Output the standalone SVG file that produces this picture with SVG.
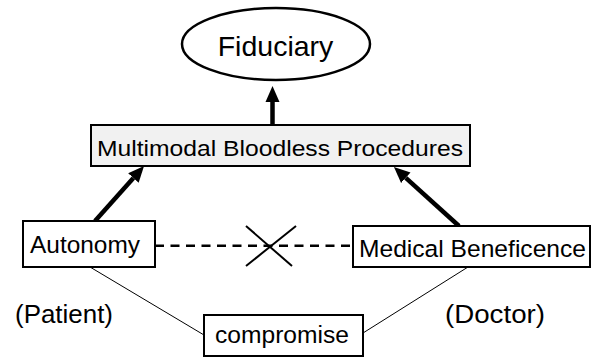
<svg xmlns="http://www.w3.org/2000/svg" width="597" height="358" viewBox="0 0 597 358">
<style>
.t{font-family:"Liberation Sans",Arial,sans-serif;fill:#000}
.box{fill:#fff;stroke:#000;stroke-width:2}
.thick{stroke:#000;stroke-width:4.5;fill:none}
.thin{stroke:#000;stroke-width:1;fill:none}
</style>
<defs>
<marker id="ah" markerUnits="userSpaceOnUse" markerWidth="16" markerHeight="16" refX="0" refY="8" orient="auto" viewBox="0 0 16 16">
<path d="M0,1 L16,8 L0,15 z" fill="#000"/>
</marker>
</defs>
<rect width="597" height="358" fill="#fff"/>
<g id="connectors">
<line class="thick" x1="272.5" y1="125" x2="272.5" y2="102" marker-end="url(#ah)"/>
<line class="thick" x1="95" y1="221" x2="133.4" y2="178" marker-end="url(#ah)"/>
<line class="thick" x1="459" y1="226" x2="405.8" y2="177.8" marker-end="url(#ah)"/>
<line x1="155" y1="245.7" x2="353" y2="245.7" stroke="#000" stroke-width="2.5" stroke-dasharray="9,6.5"/>
<line x1="246" y1="226" x2="292" y2="266" stroke="#000" stroke-width="2"/>
<line x1="296" y1="226" x2="246" y2="266" stroke="#000" stroke-width="2"/>
<line class="thin" x1="90" y1="267" x2="204" y2="335"/>
<line class="thin" x1="468" y1="267" x2="363" y2="333"/>
</g>
<g id="fiduciary">
<ellipse cx="276" cy="44" rx="94" ry="36" fill="#fff" stroke="#000" stroke-width="2.5"/>
<text class="t" x="275.5" y="56" font-size="28.5" text-anchor="middle">Fiduciary</text>
</g>
<g id="mbp">
<rect x="91" y="125" width="379" height="41" fill="#f1f1f1" stroke="#000" stroke-width="2"/>
<text class="t" x="97" y="155.5" font-size="22.5" textLength="366" lengthAdjust="spacingAndGlyphs">Multimodal Bloodless Procedures</text>
</g>
<g id="autonomy">
<rect class="box" x="23" y="221" width="132" height="46"/>
<text class="t" x="30" y="253" font-size="24.4" textLength="110" lengthAdjust="spacingAndGlyphs">Autonomy</text>
</g>
<g id="medical">
<rect class="box" x="353" y="226" width="237" height="41"/>
<text class="t" x="359" y="256.5" font-size="24.5" textLength="227" lengthAdjust="spacingAndGlyphs">Medical Beneficence</text>
</g>
<g id="compromise">
<rect class="box" x="204" y="315" width="159" height="41"/>
<text class="t" x="215" y="343" font-size="24.6" textLength="134" lengthAdjust="spacingAndGlyphs">compromise</text>
</g>
<g id="patient">
<text class="t" x="15" y="323.3" font-size="25" textLength="98" lengthAdjust="spacingAndGlyphs">(Patient)</text>
</g>
<g id="doctor">
<text class="t" x="445" y="323.3" font-size="25" textLength="100" lengthAdjust="spacingAndGlyphs">(Doctor)</text>
</g>
</svg>
